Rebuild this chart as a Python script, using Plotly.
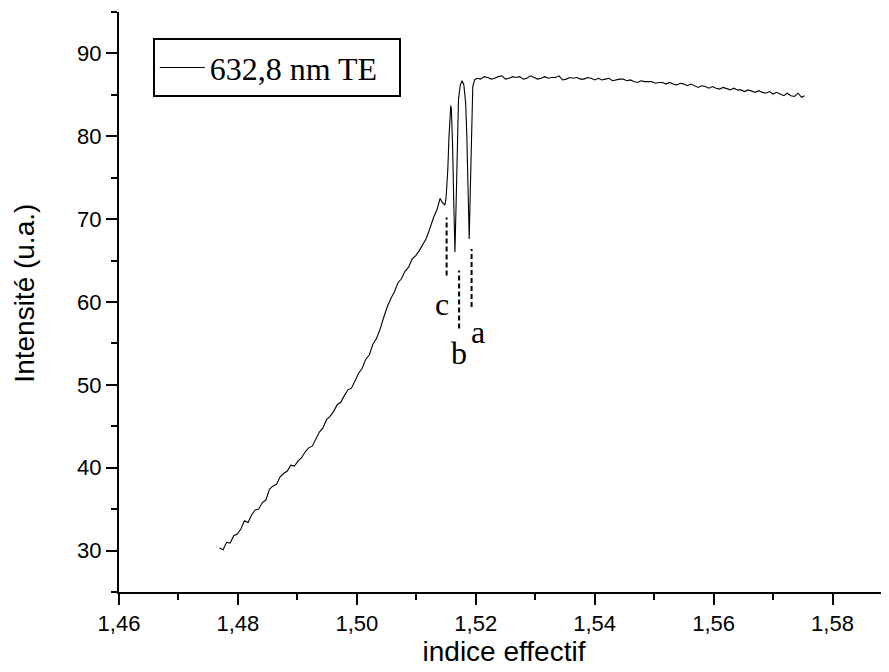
import plotly.graph_objects as go

# ---- data ----
rise_x = [1.4769, 1.4775, 1.4781, 1.4787, 1.4793, 1.4799, 1.4805, 1.4811, 1.4817, 1.4823,
          1.4829, 1.4835, 1.4841, 1.4847, 1.4853, 1.4859, 1.4865, 1.4871, 1.4877, 1.4883,
          1.4889, 1.4895, 1.4901, 1.4907, 1.4913, 1.4919, 1.4925, 1.4931, 1.4937, 1.4943,
          1.4949, 1.4955, 1.4961, 1.4967, 1.4973, 1.4979, 1.4985, 1.4991, 1.4997, 1.5003,
          1.5009, 1.5015, 1.5021, 1.5027, 1.5033, 1.5039, 1.5045, 1.5051, 1.5057, 1.5063,
          1.5069, 1.5075, 1.5081, 1.5087, 1.5093, 1.5099, 1.5105, 1.5111, 1.5117, 1.5123,
          1.5129, 1.5135, 1.5140, 1.5144, 1.5148]
rise_y = [30.3, 30.1, 31.0, 30.9, 31.8, 32.0, 32.6, 33.6, 33.4, 34.3,
          34.9, 35.0, 35.8, 36.1, 37.4, 37.8, 38.0, 38.9, 39.3, 39.6,
          40.3, 40.2, 40.8, 41.2, 41.9, 42.4, 42.6, 43.5, 44.3, 44.8,
          45.8, 46.2, 46.8, 47.6, 47.9, 48.7, 49.4, 49.6, 50.6, 51.4,
          52.0, 53.1, 53.6, 54.9, 55.6, 56.7, 58.1, 59.4, 60.4, 61.2,
          62.3, 62.8, 63.7, 64.2, 65.2, 65.6, 66.2, 66.9, 67.7, 68.9,
          70.2, 71.2, 72.5, 72.0, 71.7]

peaks_x = [1.5150, 1.5153, 1.5155, 1.5157, 1.5158, 1.5159, 1.5161, 1.5163, 1.5165,
           1.5167, 1.5169, 1.5171, 1.5174, 1.5177, 1.5180, 1.5183, 1.5185, 1.5187,
           1.5189, 1.5191, 1.5193, 1.5195]
peaks_y = [72.5, 76.0, 80.0, 83.2, 83.7, 83.2, 79.0, 72.0, 66.0,
           72.0, 80.0, 84.5, 86.2, 86.7, 86.2, 84.0, 80.0, 73.0,
           67.6, 74.0, 82.0, 86.0]

plateau_x = [1.5198, 1.5202, 1.5208, 1.5214, 1.5220, 1.5226, 1.5232, 1.5238, 1.5244, 1.5250,
             1.5256, 1.5262, 1.5268, 1.5274, 1.5280, 1.5286, 1.5292, 1.5298, 1.5304, 1.5310,
             1.5316, 1.5322, 1.5328, 1.5334, 1.5340, 1.5346, 1.5352, 1.5358, 1.5364, 1.5370,
             1.5376, 1.5382, 1.5388, 1.5394, 1.5400, 1.5406, 1.5412, 1.5418, 1.5424, 1.5430,
             1.5436, 1.5442, 1.5448, 1.5454, 1.5460, 1.5466, 1.5472, 1.5478, 1.5484, 1.5490,
             1.5496, 1.5502, 1.5508, 1.5514, 1.5520, 1.5526, 1.5532, 1.5538, 1.5544, 1.5550,
             1.5556, 1.5562, 1.5568, 1.5574, 1.5580, 1.5586, 1.5592, 1.5598, 1.5604, 1.5610,
             1.5616, 1.5622, 1.5628, 1.5634, 1.5640, 1.5646, 1.5652, 1.5658, 1.5664, 1.5670,
             1.5676, 1.5682, 1.5688, 1.5694, 1.5700, 1.5706, 1.5712, 1.5718, 1.5724, 1.5730,
             1.5736, 1.5742, 1.5748, 1.5753]
plateau_y = [86.8, 87.0, 86.9, 87.2, 87.1, 86.9, 87.0, 87.2, 87.3, 86.9,
             87.0, 87.2, 87.1, 87.2, 86.9, 87.0, 87.3, 87.1, 86.9, 87.0,
             87.2, 87.0, 87.1, 87.1, 87.3, 86.8, 86.9, 87.1, 87.0, 87.1,
             86.9, 86.9, 87.1, 87.0, 86.8, 87.0, 86.8, 86.9, 87.0, 86.7,
             86.8, 86.9, 86.9, 86.7, 86.8, 86.6, 86.5, 86.7, 86.6, 86.6,
             86.6, 86.4, 86.5, 86.5, 86.3, 86.5, 86.3, 86.2, 86.4, 86.3,
             86.1, 86.3, 86.1, 85.9, 86.1, 86.0, 85.8, 86.0, 85.8, 85.7,
             85.9, 85.7, 85.6, 85.8, 85.6, 85.6, 85.4, 85.6, 85.4, 85.3,
             85.5, 85.3, 85.2, 85.4, 85.1, 85.3, 85.1, 84.9, 85.2, 84.9,
             84.8, 85.2, 84.7, 84.9]

# annotation marks (mode labels)
mark_labels = ["a", "b", "c"]
mark_x = [1.5193, 1.5172, 1.5151]
mark_y_top = [66.4, 63.8, 70.2]
mark_y_bottom = [59.4, 56.8, 63.2]
label_x = [1.5204, 1.5172, 1.5143]
label_y = [56.4, 53.8, 59.8]

x_ticks = [1.46, 1.48, 1.50, 1.52, 1.54, 1.56, 1.58]
y_ticks = [30, 40, 50, 60, 70, 80, 90]

series_name = "632,8 nm TE"
x_title = "indice effectif"
y_title = "Intensité (u.a.)"

# ---- figure ----
xs = rise_x + peaks_x + plateau_x
ys = rise_y + peaks_y + plateau_y

fig = go.Figure()
fig.add_trace(go.Scatter(x=xs, y=ys, mode="lines", name=series_name + "\u00a0\u00a0",
                         line=dict(color="black", width=1.1), showlegend=True))

for mx, yt, yb in zip(mark_x, mark_y_top, mark_y_bottom):
    fig.add_shape(type="line", xref="x", yref="y", x0=mx, x1=mx, y0=yb, y1=yt,
                  line=dict(color="black", width=2, dash="5px,3px"))
for lab, lx, ly in zip(mark_labels, label_x, label_y):
    fig.add_annotation(x=lx, y=ly, xref="x", yref="y", text=lab, showarrow=False,
                       font=dict(family="Liberation Serif", size=32, color="black"))

# y-axis title (placed as rotated text, slightly above the plot centre as in the reference)
fig.add_annotation(x=-0.122, y=0.5145, xref="paper", yref="paper", text=y_title,
                   textangle=-90, showarrow=False, xanchor="center", yanchor="middle",
                   font=dict(family="Liberation Sans", size=28, color="black"))

axis_common = dict(showline=True, linecolor="black", linewidth=2, ticks="outside",
                   ticklen=11, tickwidth=2, tickcolor="black", showgrid=False,
                   zeroline=False, mirror=False,
                   tickfont=dict(family="Liberation Sans", size=22, color="black"))

fig.update_xaxes(range=[1.46, 1.5895], tickvals=x_ticks, tickformat=".2f",
                 minor=dict(dtick=0.01, tick0=1.46, ticks="outside", ticklen=6,
                            tickwidth=2, tickcolor="black"),
                 title=dict(text=x_title, font=dict(family="Liberation Sans", size=28, color="black"),
                            standoff=6),
                 **axis_common)
fig.update_yaxes(range=[25, 95], tickvals=y_ticks,
                 minor=dict(dtick=5, tick0=25, ticks="outside", ticklen=6,
                            tickwidth=2, tickcolor="black"),
                 **axis_common)

# the page body adds an 8px margin, so the figure is 8px smaller and offset
fig.update_layout(
    width=881, height=664,
    margin=dict(l=111, r=0, t=4, b=80, autoexpand=False),
    plot_bgcolor="white", paper_bgcolor="white",
    separators=", ",
    legend=dict(x=0.0438, y=0.9547, xanchor="left", yanchor="top",
                bordercolor="black", borderwidth=2, bgcolor="white",
                font=dict(family="Liberation Serif", size=32, color="black"),
                itemwidth=45, tracegroupgap=0),
    showlegend=True,
)

fig.write_html("out.html")
